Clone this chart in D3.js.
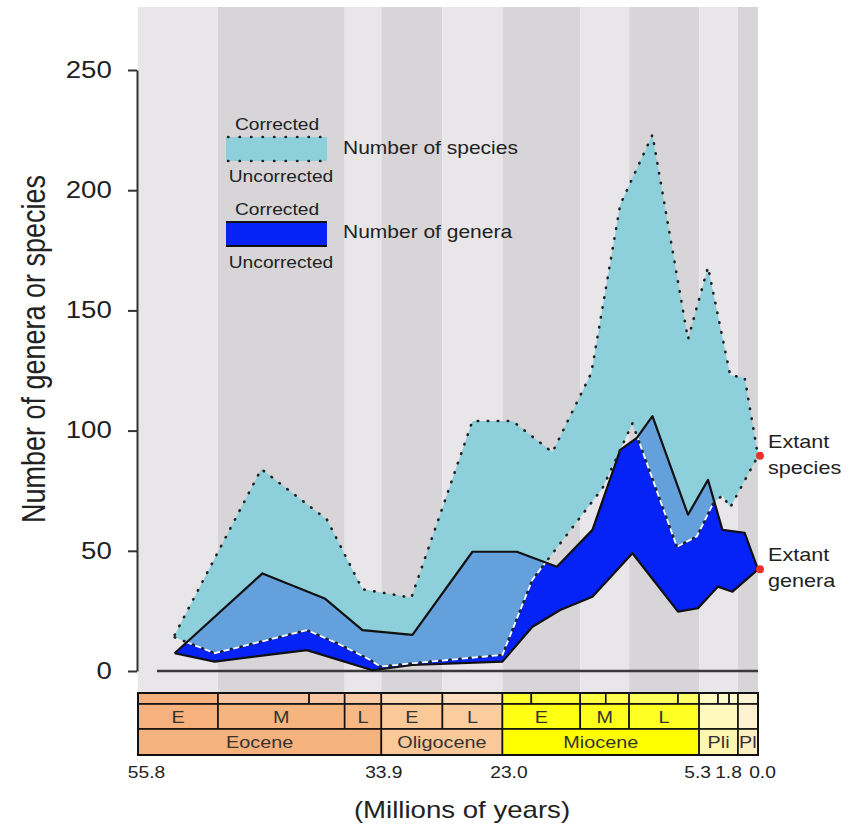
<!DOCTYPE html>
<html>
<head>
<meta charset="utf-8">
<script src="https://cdn.jsdelivr.net/npm/d3@7"></script>
<style>
  body { margin: 0; background: #fff; }
  text { font-family: "Liberation Sans", Arial, Helvetica, sans-serif; fill: #222; }
</style>
</head>
<body>
<svg id="chart" width="863" height="827"></svg>
<script>
// time in millions of years ago, values = number of taxa
const spCorrT = [52.5, 44.7, 38.8, 35.6, 31.2, 25.7, 22.1, 18.5, 15.0, 12.4, 9.5, 6.3, 4.5, 2.5, 1.2, 0];
const spCorrV = [15, 84, 63, 34, 30.5, 104, 104, 91, 124, 194, 223, 138, 168, 123, 122, 89.5];
const spUncT = [52.5, 48.9, 40.6, 37.9, 34.9, 34.0, 31.1, 23.0, 20.3, 14.0, 11.3, 7.3, 5.5, 4.0, 3.2, 2.5, 0];
const spUncV = [14, 7.4, 17, 11.6, 4.6, 1.8, 3.2, 6.7, 38, 76, 103, 51.7, 56, 70, 73, 68, 89.5];
const genCorrT = [52.5, 44.6, 39.0, 35.6, 31.1, 25.7, 21.7, 18.1, 14.9, 12.4, 10.9, 9.5, 6.3, 4.5, 3.2, 1.2, 0];
const genCorrV = [7.4, 40.6, 30.2, 17, 15, 49.6, 49.6, 43.4, 58.7, 92, 97, 106, 65, 79.5, 58.7, 57.5, 42.3];
const genUncT = [52.5, 48.9, 40.6, 34.7, 31.1, 23.0, 20.3, 17.8, 14.9, 11.3, 7.2, 5.4, 3.6, 2.3, 0];
const genUncV = [7.4, 3.9, 8.7, 0.3, 2.5, 3.9, 18.4, 25.4, 30.9, 49, 24.7, 26.1, 35.1, 33, 42.3];

const extantLabels = [["Extant", "species"], ["Extant", "genera"]];
const extantV = [89.5, 42.3];

// geologic timescale
const epochBounds = [55.8, 33.9, 23.0, 5.3, 1.8, 0];
const epochNames = ["Eocene", "Oligocene", "Miocene", "Pli", "Pl"];
const subBounds = [55.8, 48.6, 37.2, 33.9, 28.4, 23.0, 16.0, 11.6, 5.3, 1.8, 0];
const subNames = ["E", "M", "L", "E", "L", "E", "M", "L", "", ""];
const stageBounds = [55.8, 48.6, 40.4, 37.2, 33.9, 28.4, 23.0, 20.4, 16.0, 13.7, 11.6, 7.2, 5.3, 3.6, 2.6, 1.8, 0];
const timeTicks = [55.8, 33.9, 23.0, 5.3, 1.8, 0.0];
const yTicks = [0, 50, 100, 150, 200, 250];

// colours
const epochColors = ["#f6b27d", "#fbc898", "#ffff00", "#fff7b0", "#fff0c4"];
const subColors = ["#f6b17c", "#f6b47f", "#f7b886", "#fbc898", "#fbcc9e", "#ffff14", "#ffff1c", "#ffff24", "#fff9bd", "#fff2d3"];
const stageColors = ["#f6b07c", "#f9c29e", "#f9c5a2", "#fac9a6", "#fcd9b5", "#fddfbf", "#ffff2e", "#ffff3a",
  "#ffff45", "#ffff50", "#ffff5c", "#ffff66", "#fffbc4", "#fffbc8", "#fffccc", "#fff3d6"];
const cyan = "#8dcfdb", blue = "#0522f7", mid = "#64a0dc";
const SX = 1.2; // the source picture is stretched horizontally

const svg = d3.select("#chart");
const x = d3.scaleLinear().domain([55.8, 0]).range([138, 758]);
const y = d3.scaleLinear().domain([0, 250]).range([671, 70]);

const pts = (T, V) => T.map((t, i) => [t, V[i]]);
const line = d3.line().x(d => x(d[0])).y(d => y(d[1]));
const band = (topT, topV, botT, botV) =>
  line(pts(topT, topV).concat(pts(botT, botV).reverse())) + "Z";

function label(g, px, py, str, size, anchor) {
  return g.append("text")
    .attr("transform", `translate(${px},${py}) scale(${SX},1)`)
    .attr("text-anchor", anchor || "middle")
    .style("font-size", size + "px")
    .text(str);
}

// background stripes by sub-epoch
svg.append("g").selectAll("rect")
  .data(d3.range(subBounds.length - 1))
  .join("rect")
  .attr("x", i => x(subBounds[i]))
  .attr("width", i => x(subBounds[i + 1]) - x(subBounds[i]))
  .attr("y", 7)
  .attr("height", 686)
  .attr("fill", i => i % 2 ? "#d7d5d8" : "#e8e6e9");

// areas
const speciesPath = band(spCorrT, spCorrV, spUncT, spUncV);
const generaPath = band(genCorrT, genCorrV, genUncT, genUncV);
const defs = svg.append("defs");
defs.append("clipPath").attr("id", "clipSp").append("path").attr("d", speciesPath);
defs.append("clipPath").attr("id", "clipGen").append("path").attr("d", generaPath);

svg.append("path").attr("d", speciesPath).attr("fill", cyan);
svg.append("path").attr("d", generaPath).attr("fill", blue);
svg.append("path").attr("d", generaPath).attr("fill", mid).attr("clip-path", "url(#clipSp)");

// baseline
svg.append("line")
  .attr("x1", 157).attr("x2", x(0))
  .attr("y1", y(0)).attr("y2", y(0))
  .attr("stroke", "#3a3a3a").attr("stroke-width", 2.5);

// species uncorrected: white dashes where it runs over the genera band
svg.append("path").attr("d", line(pts(spUncT, spUncV)))
  .attr("fill", "none").attr("stroke", "#fff").attr("stroke-width", 1.8)
  .attr("stroke-dasharray", "6,4").attr("stroke-dashoffset", -2.25)
  .attr("clip-path", "url(#clipGen)");

// genera lines
[[genCorrT, genCorrV], [genUncT, genUncV]].forEach(([T, V]) => {
  svg.append("path").attr("d", line(pts(T, V)))
    .attr("fill", "none").attr("stroke", "#111").attr("stroke-width", 2.2)
    .attr("stroke-linejoin", "round");
});

// species dotted lines
[[spCorrT, spCorrV], [spUncT, spUncV]].forEach(([T, V]) => {
  svg.append("path").attr("d", line(pts(T, V)))
    .attr("fill", "none").attr("stroke", "#222").attr("stroke-width", 2.6)
    .attr("stroke-linecap", "round").attr("stroke-dasharray", "0.5,9.5");
});

// extant dots and labels
extantV.forEach((v, i) => {
  svg.append("circle").attr("cx", x(0) + 2).attr("cy", y(v)).attr("r", 4).attr("fill", "#e8322a");
  label(svg, 768, y(v) - 8, extantLabels[i][0], 18, "start");
  label(svg, 768, y(v) + 18, extantLabels[i][1], 18, "start");
});

// y axis
const yAxis = svg.append("g")
  .attr("transform", `translate(137,0)`)
  .call(d3.axisLeft(y).tickValues(yTicks).tickSize(9).tickSizeOuter(0));
yAxis.select(".domain").attr("stroke", "#333").attr("stroke-width", 2);
yAxis.selectAll(".tick line").attr("stroke", "#333").attr("stroke-width", 2);
yAxis.selectAll(".tick text")
  .attr("x", -21)
  .attr("transform", `scale(${SX},1)`)
  .style("font-size", "23px")
  .style("font-family", "'Liberation Sans', Arial, sans-serif")
  .attr("fill", "#222");

svg.append("text")
  .attr("transform", `translate(45,349) scale(${SX},1) rotate(-90)`)
  .attr("text-anchor", "middle")
  .style("font-size", "27px")
  .text("Number of genera or species");

// legend
const lg = svg.append("g");
label(lg, 277, 130, "Corrected", 16);
lg.append("rect").attr("x", 226).attr("y", 137).attr("width", 101).attr("height", 24).attr("fill", cyan);
[137, 161].forEach(yy => lg.append("line")
  .attr("x1", 228).attr("x2", 327).attr("y1", yy).attr("y2", yy)
  .attr("stroke", "#222").attr("stroke-width", 2.4)
  .attr("stroke-linecap", "round").attr("stroke-dasharray", "0.5,11"));
label(lg, 281, 182, "Uncorrected", 16);
label(lg, 343, 154, "Number of species", 17.5, "start");

label(lg, 277, 215, "Corrected", 16);
lg.append("rect").attr("x", 226).attr("y", 222).attr("width", 101).attr("height", 24).attr("fill", blue);
[222, 246].forEach(yy => lg.append("line")
  .attr("x1", 226).attr("x2", 327).attr("y1", yy).attr("y2", yy)
  .attr("stroke", "#111").attr("stroke-width", 2.2));
label(lg, 281, 268, "Uncorrected", 16);
label(lg, 343, 238, "Number of genera", 17.5, "start");

// timescale
const ts = svg.append("g");
const rows = [
  { b: stageBounds, c: stageColors, n: null, y0: 693, y1: 704 },
  { b: subBounds, c: subColors, n: subNames, y0: 704, y1: 729 },
  { b: epochBounds, c: epochColors, n: epochNames, y0: 729, y1: 755 }
];
rows.forEach(r => {
  for (let i = 0; i < r.b.length - 1; i++) {
    ts.append("rect")
      .attr("x", x(r.b[i])).attr("width", x(r.b[i + 1]) - x(r.b[i]))
      .attr("y", r.y0).attr("height", r.y1 - r.y0)
      .attr("fill", r.c[i]).attr("stroke", "#111").attr("stroke-width", 1.6);
    if (r.n && r.n[i]) {
      const cx = (x(r.b[i]) + x(r.b[i + 1])) / 2;
      const isPl = r.n[i] === "Pl";
      label(ts, isPl ? x(r.b[i]) + 1 : cx, (r.y0 + r.y1) / 2 + 6, r.n[i], 16.5, isPl ? "start" : "middle")
        .style("fill", "#333");
    }
  }
});
ts.append("rect").attr("x", x(55.8)).attr("y", 693)
  .attr("width", x(0) - x(55.8)).attr("height", 62)
  .attr("fill", "none").attr("stroke", "#111").attr("stroke-width", 2);

// time labels
const xAxis = svg.append("g")
  .attr("transform", `translate(0,760)`)
  .call(d3.axisBottom(x).tickValues(timeTicks).tickSize(0).tickFormat(d3.format(".1f")));
xAxis.select(".domain").remove();
const nudge = { "55.8": 8, "33.9": 2, "23.0": 6, "5.3": -2, "1.8": -10, "0.0": 4 };
xAxis.selectAll(".tick text")
  .attr("y", 18)
  .attr("dy", 0)
  .attr("transform", function (d) { return `translate(${nudge[d3.format(".1f")(d)]},0) scale(${SX},1)`; })
  .style("font-size", "16px")
  .style("font-family", "'Liberation Sans', Arial, sans-serif")
  .attr("fill", "#333");

label(svg, 462, 818, "(Millions of years)", 23);
</script>
</body>
</html>
